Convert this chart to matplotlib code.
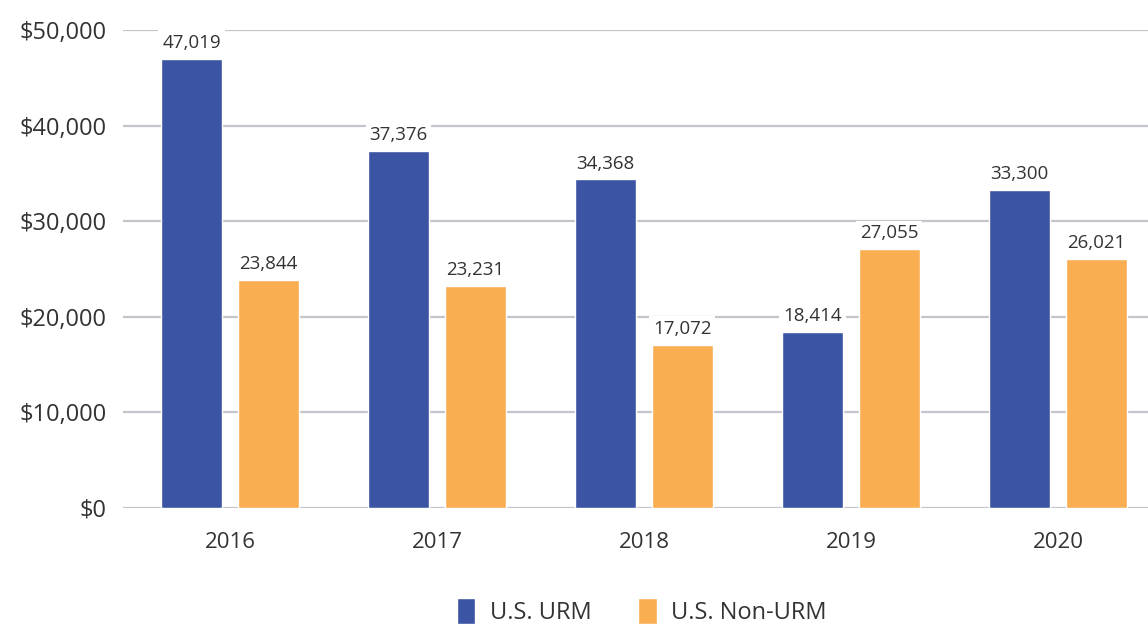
import matplotlib.pyplot as plt
import numpy as np

years = ["2016", "2017", "2018", "2019", "2020"]
urm = [47019, 37376, 34368, 18414, 33300]
non_urm = [23844, 23231, 17072, 27055, 26021]
yticks = [0, 10000, 20000, 30000, 40000, 50000]
ytick_labels = ["$0", "$10,000", "$20,000", "$30,000", "$40,000", "$50,000"]

blue = "#3B54A4"
orange = "#F9AE52"
text_col = "#333333"
grid_col = "#C4C4CC"

plt.rcParams["font.family"] = ["Open Sans", "DejaVu Sans"]

fig = plt.figure(figsize=(11.48, 6.24), dpi=100)
ax = fig.add_axes([0.1071, 0.1859, 0.8929, 0.766])

x = np.arange(len(years))
w = 0.295
off = 0.186
b1 = ax.bar(x - off, urm, w, color=blue, edgecolor="white", linewidth=1, label="U.S. URM", zorder=3)
b2 = ax.bar(x + off, non_urm, w, color=orange, edgecolor="white", linewidth=1, label="U.S. Non-URM", zorder=3)

for bars, vals in [(b1, urm), (b2, non_urm)]:
    for rect, v in zip(bars, vals):
        ax.annotate(f"{v:,}", (rect.get_x() + rect.get_width() / 2, v),
                    xytext=(0, 5), textcoords="offset points",
                    ha="center", va="bottom", fontsize=13.5, color=text_col,
                    bbox=dict(boxstyle="square,pad=0.2", fc="white", ec="none"),
                    zorder=5, annotation_clip=False)

ax.set_xlim(-0.517, 4.435)
ax.set_ylim(0, 50000)
ax.set_yticks(yticks)
ax.set_yticklabels(ytick_labels)
ax.set_xticks(x)
ax.set_xticklabels(years)
ax.tick_params(axis="y", length=0, pad=12, labelsize=17, labelcolor=text_col)
ax.tick_params(axis="x", length=0, pad=17, labelsize=16, labelcolor=text_col)
ax.grid(axis="y", color=grid_col, linewidth=1.6, zorder=0)
ax.set_axisbelow(True)
for s in ax.spines.values():
    s.set_visible(False)

fig.legend(loc="center", bbox_to_anchor=(0.559, 0.02), ncol=2, frameon=False,
           fontsize=17, handlelength=0.8, handleheight=1.3, handletextpad=0.6,
           columnspacing=2.0, labelcolor=text_col)

fig.savefig("out.png", dpi=100)
